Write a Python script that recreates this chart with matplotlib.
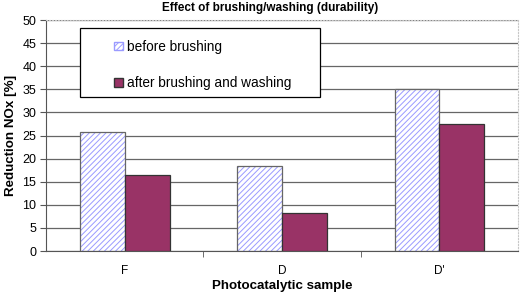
import matplotlib.pyplot as plt
import numpy as np
from matplotlib.patches import Rectangle

plt.rcParams['font.family'] = ['Liberation Sans', 'DejaVu Sans']
plt.rcParams['hatch.linewidth'] = 0.7

samples = ['F', 'D', "D'"]
before = [25.7, 18.4, 35.1]
after = [16.5, 8.3, 27.6]
labels = ['before brushing', 'after brushing and washing']

fig = plt.figure(figsize=(5.2, 2.95), dpi=100)
ax = fig.add_axes([0.0885, 0.149, 0.908, 0.783])

x = np.arange(len(samples))
w = 0.285
# hatch fill in light blue, then outline on top
ax.bar(x - w / 2, before, w, color='white', edgecolor='#9a9aff', hatch='//////',
       linewidth=0, zorder=2)
b1 = ax.bar(x - w / 2, before, w, fill=False, edgecolor='#666666', linewidth=0.9,
            zorder=3)
b2 = ax.bar(x + w / 2, after, w, color='#993366', edgecolor='#333333',
            linewidth=0.9, zorder=3)

ax.set_xlim(-0.5, 2.5)
ax.set_ylim(0, 50)
ax.set_yticks(np.arange(0, 51, 5))
ax.yaxis.grid(True, color='#666666', linewidth=0.9, zorder=0)
ax.set_xticks(x)
ax.set_xticklabels(samples)
ax.set_xticks([0.5, 1.5], minor=True)
ax.tick_params(axis='x', which='major', length=0, labelsize=8.5, pad=10)
ax.tick_params(axis='x', which='minor', length=4, color='#555555')
ax.tick_params(axis='y', length=4, labelsize=9, color='#555555', pad=3)

for s in ['top', 'right']:
    ax.spines[s].set_color('#c8c8c8')
    ax.spines[s].set_linestyle(':')
for s in ['left', 'bottom']:
    ax.spines[s].set_color('#555555')

ax.set_ylabel('Reduction NOx [%]', fontweight='bold', fontsize=9.6, labelpad=4)
ax.set_xlabel('Photocatalytic sample', fontweight='bold', fontsize=9.6, labelpad=2)
fig.text(0.519, 0.972, 'Effect of brushing/washing (durability)', ha='center', va='center',
         fontweight='bold', fontsize=8.5)

# legend box drawn as a patch, entries placed inside it
ax.add_patch(Rectangle((0.072, 0.667), 0.508, 0.298, transform=ax.transAxes,
                       facecolor='white', edgecolor='black', linewidth=0.9, zorder=4))
leg_handles = [Rectangle((0, 0), 1, 1, facecolor='white', edgecolor='#9a9aff', hatch='//////'),
               Rectangle((0, 0), 1, 1, facecolor='#993366', edgecolor='#333333')]
leg = ax.legend(leg_handles, labels, loc='upper left', bbox_to_anchor=(0.145, 0.915),
                frameon=False, fontsize=9.8, handlelength=0.6, handleheight=0.6,
                labelspacing=1.65, borderpad=0, handletextpad=0.3, borderaxespad=0)
leg.set_zorder(5)

plt.savefig('out.png', dpi=100)
